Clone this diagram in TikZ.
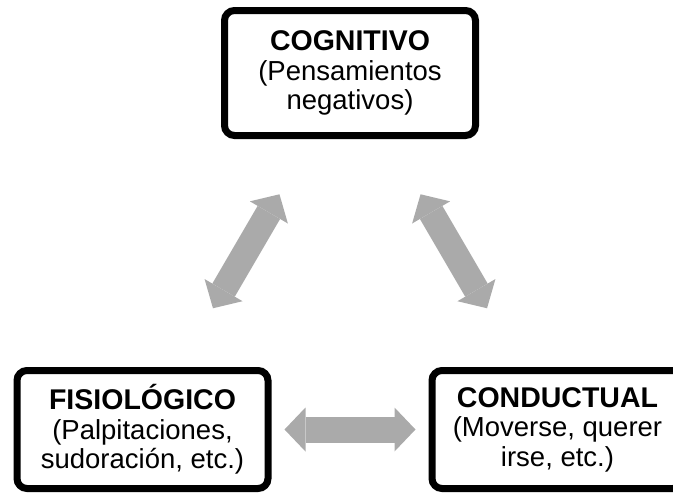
\documentclass[tikz,border=0pt]{standalone}
\usepackage{fontspec}
\setmainfont{Liberation Sans}
\usetikzlibrary{arrows.meta, positioning}
\definecolor{arrowgray}{RGB}{170,170,170}
\newcommand\ttl[1]{{\fontsize{28.5}{29}\selectfont\bfseries #1}}

\begin{document}
\begin{tikzpicture}[
      x=1pt, y=-1pt,
      >={Triangle[length=21pt, width=44pt, line width=0pt 0 0]},
      every node/.append style={font=\fontsize{27.5}{29.5}\selectfont},
      box/.style={rectangle, rounded corners=10pt, draw, line width=7pt,
                  minimum width=251pt, minimum height=118pt, align=center,
                  inner sep=0pt, fill=white},
      link/.style={<->, arrowgray, line width=26pt},
    ]
      \useasboundingbox (0,0) rectangle (673,493);
      \clip (0,0) rectangle (673,493);

      \node[box, minimum height=125pt] (COG) at (350,73)
        {\ttl{COGNITIVO} \\ (Pensamientos \\ negativos)};
      \node[box] (FIS) at (142.5,429.5)
        {\ttl{FISIOLÓGICO} \\ (Palpitaciones, \\ sudoración, etc.)};
      \node[box] (CON) at (557.5,429.5)
        {\ttl{CONDUCTUAL} \\ (Moverse, querer \\ irse, etc.)};

      \draw[link, shorten <=64pt, shorten >=68pt] (COG) -- (FIS);
      \draw[link, shorten <=64pt, shorten >=68pt] (COG) -- (CON);
      \draw[link, shorten <=13pt, shorten >=13pt] (FIS) -- (CON);
    \end{tikzpicture}
\end{document}
